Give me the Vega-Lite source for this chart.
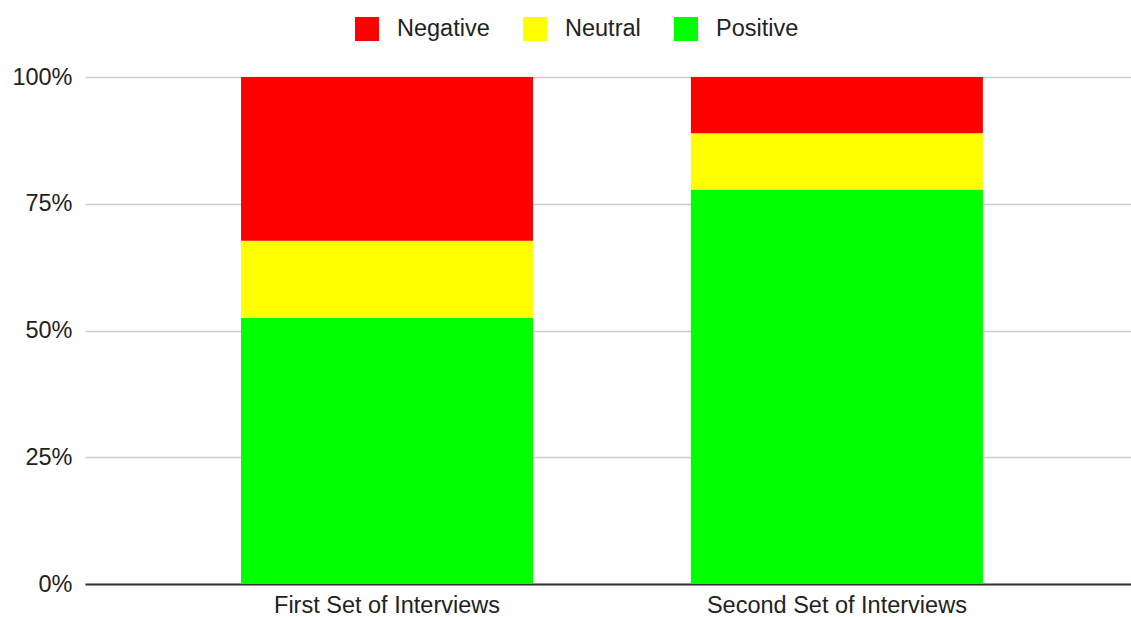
{
  "$schema": "https://vega.github.io/schema/vega-lite/v6.json",
  "autosize": {"type": "none"},
  "width": 1046,
  "height": 507,
  "padding": {"left": 85, "top": 77, "right": 0, "bottom": 33},
  "background": "white",
  "data": {
    "values": [
      {"set": "First Set of Interviews", "sentiment": "Positive", "share": 52.5},
      {"set": "First Set of Interviews", "sentiment": "Neutral", "share": 15.2},
      {"set": "First Set of Interviews", "sentiment": "Negative", "share": 32.3},
      {"set": "Second Set of Interviews", "sentiment": "Positive", "share": 77.8},
      {"set": "Second Set of Interviews", "sentiment": "Neutral", "share": 11.1},
      {"set": "Second Set of Interviews", "sentiment": "Negative", "share": 11.1}
    ]
  },
  "mark": {"type": "bar"},
  "encoding": {
    "x": {
      "field": "set",
      "type": "nominal",
      "sort": null,
      "title": null,
      "scale": {"paddingInner": 0.351, "paddingOuter": 0.338, "align": 0.513},
      "axis": {
        "labelAngle": 0,
        "labelFont": "Liberation Sans",
        "labelFontSize": 23.5,
        "labelColor": "#222222",
        "labelPadding": 9,
        "labelLimit": 600,
        "ticks": false,
        "domain": true,
        "domainColor": "#333333",
        "domainWidth": 2,
        "grid": false
      }
    },
    "y": {
      "field": "share",
      "type": "quantitative",
      "stack": "normalize",
      "title": null,
      "scale": {"domain": [0, 1]},
      "axis": {
        "values": [0, 0.25, 0.5, 0.75, 1],
        "format": ".0%",
        "labelFont": "Liberation Sans",
        "labelFontSize": 23.5,
        "labelColor": "#222222",
        "labelPadding": 13,
        "ticks": false,
        "domain": false,
        "grid": true,
        "gridColor": "#cccccc",
        "gridWidth": 1.5
      }
    },
    "color": {
      "field": "sentiment",
      "type": "nominal",
      "scale": {"domain": ["Negative", "Neutral", "Positive"], "range": ["#ff0000", "#ffff00", "#00ff00"]},
      "legend": {
        "title": null,
        "orient": "none",
        "legendX": 270,
        "legendY": -60,
        "direction": "horizontal",
        "symbolType": "square",
        "symbolSize": 576,
        "symbolStrokeWidth": 0,
        "symbolOpacity": 1,
        "labelFont": "Liberation Sans",
        "labelFontSize": 23.5,
        "labelColor": "#222222",
        "labelOffset": 18,
        "labelLimit": 300,
        "columnPadding": 33
      }
    },
    "order": {"field": "sentiment", "sort": "descending"}
  },
  "config": {
    "view": {"stroke": null},
    "bar": {"stroke": null}
  }
}
